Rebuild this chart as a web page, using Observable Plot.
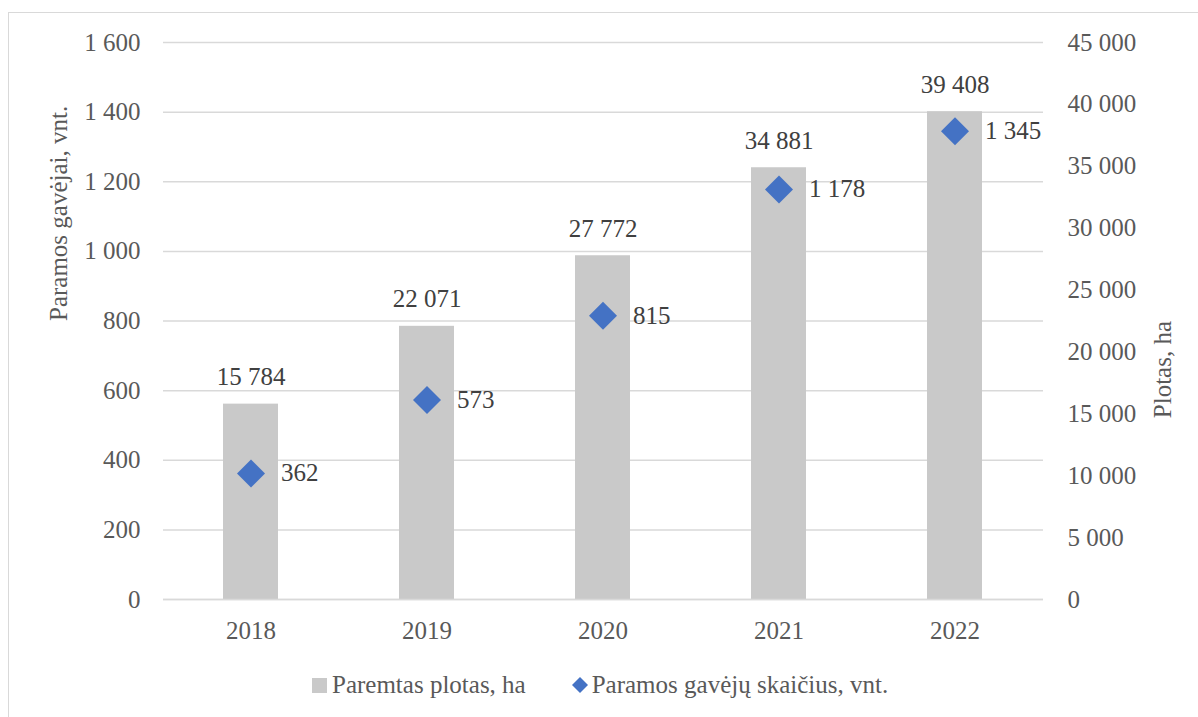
<!DOCTYPE html>
<html><head><meta charset="utf-8">
<script src="https://cdn.jsdelivr.net/npm/d3@7"></script>
<script src="https://cdn.jsdelivr.net/npm/@observablehq/plot@0.6"></script>
<style>
body{margin:0;background:#fff;overflow:hidden}
#wrap{position:relative;width:1198px;height:717px;color:#595959}
#frame{position:absolute;left:8px;top:12px;width:1210px;height:730px;border:1.5px solid #d9d9d9;box-sizing:border-box;pointer-events:none}
#chart{position:absolute;left:0;top:0}
#legend{position:absolute;left:312px;top:668px;height:34px;display:flex;align-items:center;font-size:25px;white-space:nowrap;color:#595959}
#legend .sq{display:inline-block;width:15px;height:15px;background:#c9c9c9;margin-right:5px}
#legend .gap{display:inline-block;width:46px}
#legend svg{margin-right:4px}
</style>
</head><body>
<div id="wrap" style="font-family:'Liberation Serif' !important"><div id="frame"></div><div id="chart"></div>
<div id="legend" style="font-family:'Liberation Serif' !important"><span class="sq"></span><span style="font-family:'Liberation Serif' !important">Paremtas plotas, ha</span><span class="gap"></span><svg width="16" height="16" viewBox="0 0 16 16"><path d="M8 0L16 8L8 16L0 8Z" fill="#4472C4"/></svg><span style="font-family:'Liberation Serif' !important">Paramos gavėjų skaičius, vnt.</span></div>
</div>
<script>
const years = ["2018", "2019", "2020", "2021", "2022"];
const areaHa = [15784, 22071, 27772, 34881, 39408];
const recipients = [362, 573, 815, 1178, 1345];
const leftTicks = [0, 200, 400, 600, 800, 1000, 1200, 1400, 1600];
const rightTicks = [0, 5000, 10000, 15000, 20000, 25000, 30000, 35000, 40000, 45000];
const leftTitle = "Paramos gavėjai, vnt.";
const rightTitle = "Plotas, ha";

const leftMax = 1600, rightMax = 45000;
const k = leftMax / rightMax;
const fmt = d3.formatLocale({decimal: ",", thousands: " ", grouping: [3], currency: ["", ""]}).format(",");
const data = years.map((y, i) => ({year: y, area: areaHa[i], rec: recipients[i]}));

const chart = Plot.plot({
  width: 1198,
  height: 660,
  marginLeft: 163,
  marginRight: 155,
  marginTop: 42,
  marginBottom: 61,
  style: "font-family:'Liberation Serif';font-size:25px;color:#595959;background:transparent",
  x: {type: "band", domain: years, paddingInner: 0.687, paddingOuter: 0.3435, align: 0.5},
  y: {domain: [0, leftMax]},
  marks: [
    Plot.gridY(leftTicks, {stroke: "#d9d9d9", strokeOpacity: 1, strokeWidth: 1.5}),
    Plot.barY(data, {x: "year", y: d => d.area * k, fill: "#c9c9c9"}),
    Plot.ruleY([0], {stroke: "#d9d9d9", strokeWidth: 1.5}),
    Plot.text(data, {x: "year", y: d => d.area * k, text: d => fmt(d.area), dy: -27, fontSize: 25, fill: "#404040"}),
    Plot.dot(data, {x: "year", y: "rec", symbol: "diamond2", r: 12.6, fill: "#4472C4", stroke: "none"}),
    Plot.text(data, {x: "year", y: "rec", text: d => fmt(d.rec), dx: 30, textAnchor: "start", fontSize: 25, fill: "#404040"}),
    Plot.axisY(leftTicks, {anchor: "left", tickFormat: fmt, tickSize: 0, tickPadding: 23, fontSize: 25, label: null}),
    Plot.axisY(rightTicks.map(v => v * k), {anchor: "right", tickFormat: d => fmt(Math.round(d / k)), tickSize: 0, tickPadding: 24, fontSize: 25, label: null}),
    Plot.axisX({tickSize: 0, tickPadding: 22, fontSize: 25, label: null}),
    Plot.text([leftTitle], {frameAnchor: "left", dx: -105, rotate: -90, fontSize: 25, fill: "#595959"}),
    Plot.text([rightTitle], {frameAnchor: "right", dx: 119, rotate: -90, fontSize: 25, fill: "#595959"})
  ]
});
chart.style.setProperty("font-family", "'Liberation Serif'", "important");
chart.querySelectorAll("g, text, tspan").forEach(el => {
  el.setAttribute("font-family", "Liberation Serif");
  el.style.setProperty("font-family", "'Liberation Serif'", "important");
});
document.getElementById("chart").appendChild(chart);
</script>
</body></html>
